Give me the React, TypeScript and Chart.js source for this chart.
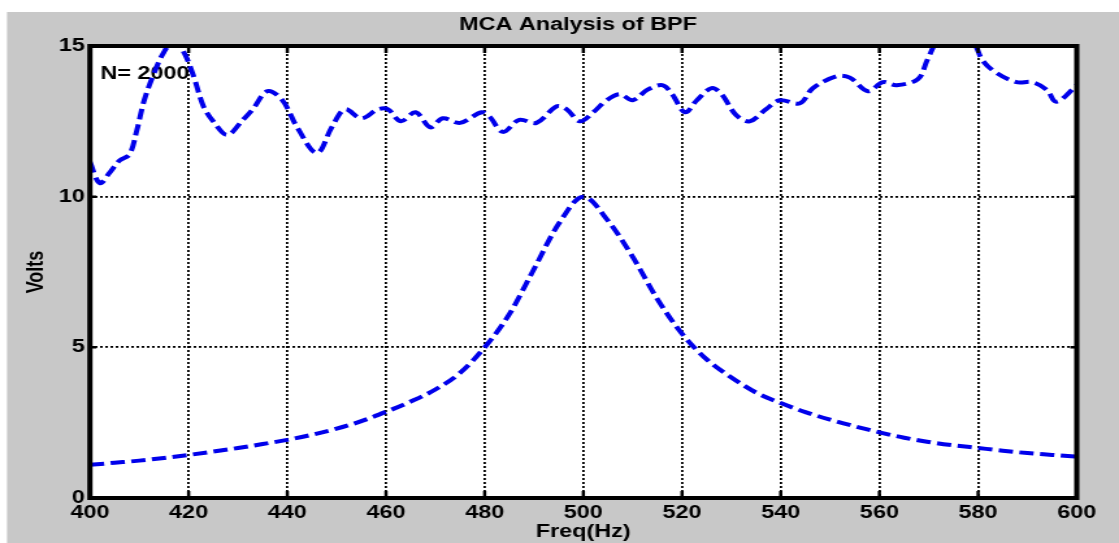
import React, { useEffect, useRef } from "react";
import { Chart, registerables } from "chart.js";

Chart.register(...registerables);

// ---------- data ----------
const titleText = "MCA Analysis of BPF";
const xAxisLabel = "Freq(Hz)";
const yAxisLabel = "Volts";
const noteText = "N= 2000";

const xTickStep = 20;
const xMin = 400;
const xMax = 600;
const yTickStep = 5;
const yMin = 0;
const yMax = 15;

const bpfFreq = [
  400, 405, 410, 415, 420, 425, 430, 435, 440, 445, 450, 455, 460, 465, 470, 475,
  480, 485, 490, 495, 500, 505, 510, 515, 520, 525, 530, 535, 540, 545, 550, 555,
  560, 565, 570, 575, 580, 585, 590, 595, 600,
];
const bpfVolts = [
  1.1, 1.17, 1.24, 1.33, 1.43, 1.54, 1.66, 1.79, 1.93, 2.1, 2.3, 2.55, 2.86, 3.2, 3.6, 4.15,
  5.0, 6.1, 7.6, 9.1, 10.0, 9.2, 8.0, 6.6, 5.45, 4.6, 4.0, 3.5, 3.15, 2.85, 2.6, 2.38,
  2.18, 2.0, 1.86, 1.75, 1.66, 1.57, 1.49, 1.43, 1.37,
];

const mcaFreq = [
  400, 402, 404, 406, 408, 409.5, 411, 413, 415, 417, 419, 421, 423, 425, 427.8, 431,
  433, 436, 439, 442, 446, 449, 451.7, 455, 458.4, 460.4, 463, 466, 469, 471.5, 475,
  479.4, 481, 483.7, 487, 490.5, 494.6, 496.6, 499.3, 502, 504.7, 507.4, 510, 513, 516,
  518, 520.6, 523, 526, 528, 531, 533.7, 537, 539.8, 543.9, 546.5, 551.4, 554, 557.7,
  560.7, 563.5, 567.8, 569.6, 571, 573, 575.5, 578, 579.7, 581, 583.8, 587.8, 591, 593.9,
  595.9, 600,
];
const mcaVolts = [
  11.15, 10.45, 10.8, 11.2, 11.4, 12.2, 13.2, 14.1, 14.8, 15.15, 14.8, 14.0, 13.0, 12.5, 12.05, 12.55,
  12.9, 13.5, 13.2, 12.3, 11.45, 12.3, 12.9, 12.6, 12.9, 12.9, 12.5, 12.8, 12.3, 12.6, 12.45,
  12.8, 12.65, 12.15, 12.55, 12.45, 13.0, 12.9, 12.5, 12.8, 13.2, 13.4, 13.2, 13.55, 13.7,
  13.4, 12.8, 13.2, 13.6, 13.4, 12.7, 12.5, 12.9, 13.2, 13.1, 13.6, 14.0, 13.95, 13.5,
  13.8, 13.7, 13.9, 14.5, 15.0, 15.7, 16.0, 15.6, 14.95, 14.5, 14.1, 13.8, 13.8, 13.55,
  13.15, 13.7,
];

// ---------- layout / style ----------
const CSS_W = 1119;
const CSS_H = 543;
const CANVAS_W = 861; // drawn narrower and stretched horizontally, as the reference is
const CANVAS_H = 543;
const FONT = '"Liberation Sans", Arial, Helvetica, sans-serif';
const LINE_BLUE = "rgb(0,0,235)";
const GRAY = "#c8c8c8";
const GRAY_LEFT = 5.4;
const GRAY_TOP = 12;

const matlabPlugin = {
  id: "matlabLook",
  beforeDraw(chart: any) {
    const { ctx, width, height, chartArea: a } = chart;
    ctx.save();
    ctx.fillStyle = "#ffffff";
    ctx.fillRect(0, 0, width, height);
    ctx.fillStyle = GRAY;
    ctx.fillRect(GRAY_LEFT, GRAY_TOP, width - GRAY_LEFT, height - GRAY_TOP);
    ctx.fillStyle = "#ffffff";
    ctx.fillRect(a.left, a.top, a.right - a.left, a.bottom - a.top);
    ctx.restore();
  },
  beforeDatasetsDraw(chart: any) {
    const { ctx, chartArea: a } = chart;
    ctx.save();
    ctx.font = `bold 18px ${FONT}`;
    ctx.fillStyle = "#000";
    ctx.textAlign = "left";
    ctx.textBaseline = "middle";
    ctx.fillText(noteText, a.left + 8, a.top + 28);
    ctx.restore();
  },
  afterDatasetsDraw(chart: any) {
    const { ctx, chartArea: a, scales } = chart;
    ctx.save();
    ctx.strokeStyle = "#000";
    ctx.lineWidth = 2.5;
    ctx.setLineDash([]);
    scales.x.ticks.forEach((t: any) => {
      if (t.value === xMin || t.value === xMax) return;
      const px = scales.x.getPixelForValue(t.value);
      ctx.beginPath();
      ctx.moveTo(px, a.top);
      ctx.lineTo(px, a.top + 7);
      ctx.moveTo(px, a.bottom);
      ctx.lineTo(px, a.bottom - 7);
      ctx.stroke();
    });
    scales.y.ticks.forEach((t: any) => {
      if (t.value === yMin || t.value === yMax) return;
      const py = scales.y.getPixelForValue(t.value);
      ctx.beginPath();
      ctx.moveTo(a.left, py);
      ctx.lineTo(a.left + 5, py);
      ctx.moveTo(a.right, py);
      ctx.lineTo(a.right - 5, py);
      ctx.stroke();
    });
    ctx.lineWidth = 4;
    ctx.strokeRect(a.left, a.top, a.right - a.left, a.bottom - a.top);
    ctx.restore();
  },
  afterDraw(chart: any) {
    const { ctx, chartArea: a } = chart;
    ctx.save();
    ctx.font = `bold 18px ${FONT}`;
    ctx.fillStyle = "#000";
    ctx.textAlign = "center";
    ctx.textBaseline = "middle";
    ctx.fillText(titleText, (a.left + a.right) / 2 - 4, 25);
    ctx.restore();
  },
};

export default function App() {
  const canvasRef = useRef<HTMLCanvasElement | null>(null);

  useEffect(() => {
    const canvas = canvasRef.current;
    if (!canvas) return;
    const chart = new Chart(canvas, {
      type: "line",
      data: {
        datasets: [
          {
            label: "MCA",
            data: mcaFreq.map((f, i) => ({ x: f, y: mcaVolts[i] })),
            borderColor: LINE_BLUE,
            borderWidth: 4,
            borderDash: [11, 5],
            borderCapStyle: "butt",
            pointRadius: 0,
            tension: 0.35,
            fill: false,
          },
          {
            label: "BPF",
            data: bpfFreq.map((f, i) => ({ x: f, y: bpfVolts[i] })),
            borderColor: LINE_BLUE,
            borderWidth: 4,
            borderDash: [11, 5],
            borderCapStyle: "butt",
            pointRadius: 0,
            cubicInterpolationMode: "monotone",
            fill: false,
          },
        ],
      },
      options: {
        responsive: false,
        devicePixelRatio: 1,
        animation: false,
        events: [],
        layout: { padding: { left: GRAY_LEFT, right: 32.5, top: 46, bottom: 0 } },
        plugins: {
          legend: { display: false },
          tooltip: { enabled: false },
          title: { display: false },
        },
        scales: {
          x: {
            type: "linear",
            min: xMin,
            max: xMax,
            afterFit: (s: any) => {
              s.height = 45;
            },
            ticks: {
              stepSize: xTickStep,
              color: "#000",
              padding: 4,
              maxRotation: 0,
              autoSkip: false,
              font: { family: FONT, size: 18, weight: "bold" },
            },
            grid: { color: "#000", lineWidth: 1.8, drawTicks: false },
            border: { display: false, dash: [2, 2] },
            title: {
              display: true,
              text: xAxisLabel,
              color: "#000",
              padding: { top: 0, bottom: 0 },
              font: { family: FONT, size: 18, weight: "bold" },
            },
          },
          y: {
            type: "linear",
            min: yMin,
            max: yMax,
            afterFit: (s: any) => {
              s.width = 63.8;
            },
            ticks: {
              stepSize: yTickStep,
              color: "#000",
              padding: 4,
              font: { family: FONT, size: 18, weight: "bold" },
            },
            grid: { color: "#000", lineWidth: 1.8, drawTicks: false },
            border: { display: false, dash: [2, 2] },
            title: {
              display: true,
              text: yAxisLabel,
              color: "#000",
              padding: { top: 12, bottom: 0 },
              font: { family: FONT, size: 18, weight: "bold" },
            },
          },
        },
      },
      plugins: [matlabPlugin],
    } as any);
    return () => chart.destroy();
  }, []);

  return (
    <div
      style={{
        position: "fixed",
        left: 0,
        top: 0,
        width: CSS_W,
        height: CSS_H,
        background: "#fff",
      }}
    >
      <canvas
        ref={canvasRef}
        width={CANVAS_W}
        height={CANVAS_H}
        style={{ width: `${CSS_W}px`, height: `${CSS_H}px`, display: "block" }}
      />
    </div>
  );
}
